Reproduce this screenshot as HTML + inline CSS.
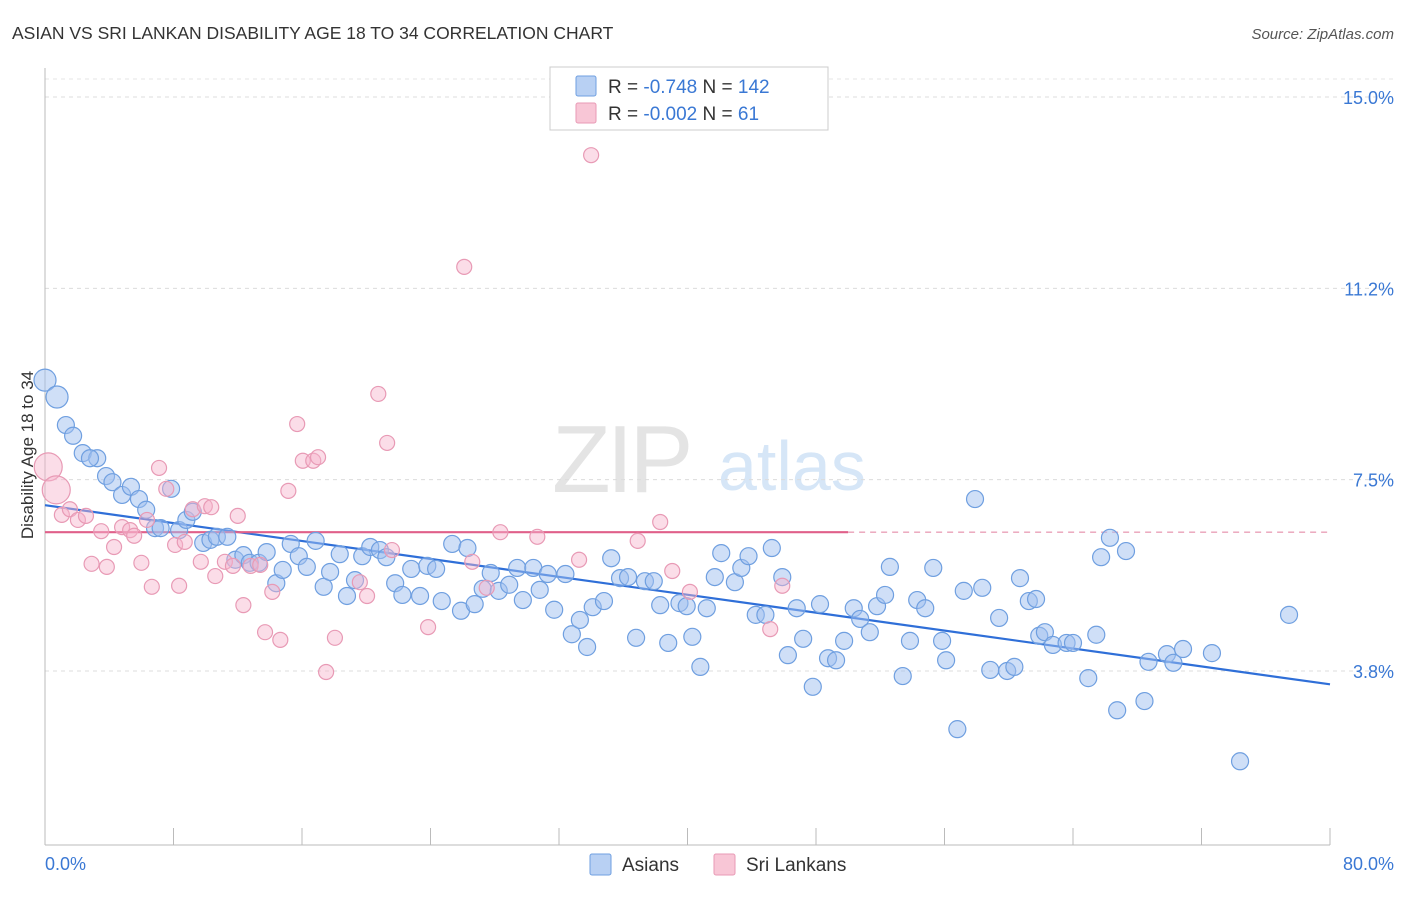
<!DOCTYPE html>
<html><head><meta charset="utf-8"><style>
body{margin:0;background:#fff;font-family:"Liberation Sans",sans-serif}
svg text{font-family:"Liberation Sans",sans-serif}
</style></head><body>
<svg id="chart" width="1406" height="892" xmlns="http://www.w3.org/2000/svg">
<text x="12" y="39" font-size="17.5" fill="#333">ASIAN VS SRI LANKAN DISABILITY AGE 18 TO 34 CORRELATION CHART</text>
<text x="1394" y="39" font-size="15" fill="#555" font-style="italic" text-anchor="end">Source: ZipAtlas.com</text>
<g><text x="552" y="492" font-size="96" fill="#e4e4e4" font-family="Liberation Serif" letter-spacing="-4">ZIP</text><text x="718" y="490" font-size="70" fill="#d6e6f7">atlas</text></g>
<g id="grid"></g><g id="axes"></g><g id="trend"></g><g id="pts"></g>
<text transform="translate(33,455) rotate(-90)" font-size="17" fill="#333" text-anchor="middle">Disability Age 18 to 34</text>
<text x="45" y="870" font-size="18" fill="#3a78d4">0.0%</text>
<text x="1394" y="870" font-size="18" fill="#3a78d4" text-anchor="end">80.0%</text>
<g>
<rect x="550" y="67" width="278" height="63" fill="#fff" stroke="#ccc"/>
<rect x="576" y="76" width="20" height="20" fill="#b8d0f3" stroke="#6f9fe0" rx="2"/>
<rect x="576" y="103" width="20" height="20" fill="#f8c6d6" stroke="#e89ab5" rx="2"/>
<text x="608" y="93" font-size="19" fill="#333">R = <tspan fill="#3a78d4">-0.748</tspan>   N = <tspan fill="#3a78d4">142</tspan></text>
<text x="608" y="120" font-size="19" fill="#333">R = <tspan fill="#3a78d4">-0.002</tspan>   N =   <tspan fill="#3a78d4"> 61</tspan></text>
</g>
<g>
<rect x="590" y="854" width="21" height="21" fill="#b8d0f3" stroke="#6f9fe0" rx="2"/>
<text x="622" y="871" font-size="19" fill="#333">Asians</text>
<rect x="714" y="854" width="21" height="21" fill="#f8c6d6" stroke="#e89ab5" rx="2"/>
<text x="746" y="871" font-size="19" fill="#333">Sri Lankans</text>
</g>
</svg>
<script>
const yTicks=[3.75,7.5,11.25,15];
const yTickLabels=["3.8%","7.5%","11.2%","15.0%"];
const xTicks=[0,8,16,24,32,40,48,56,64,72,80];
const asianX=[0,0.75,1.3,1.75,2.35,3.25,2.8,3.8,4.2,4.8,5.35,5.85,6.3,6.85,7.2,7.85,8.35,8.8,9.2,9.85,10.3,10.7,11.35,11.85,12.35,12.75,13.3,13.8,14.4,14.8,15.3,15.8,16.3,16.85,17.35,17.75,18.35,18.8,19.3,19.75,20.25,20.85,21.25,21.8,22.25,22.8,23.35,23.8,24.35,24.7,25.35,25.9,26.3,26.75,27.25,27.75,28.25,28.9,29.4,29.75,30.4,30.8,31.3,31.7,32.4,32.8,33.3,33.75,34.1,34.8,35.25,35.8,36.3,36.8,37.35,37.9,38.3,38.8,39.5,39.95,40.3,40.8,41.2,41.7,42.1,42.95,43.35,43.8,44.25,44.85,45.25,45.9,46.25,46.8,47.2,47.8,48.25,48.75,49.25,49.75,50.35,50.75,51.35,51.8,52.3,52.6,53.4,53.85,54.3,54.8,55.3,55.85,56.1,56.8,57.2,57.9,58.35,58.85,59.4,59.9,60.35,60.7,61.25,61.7,61.9,62.25,62.75,63.6,64.0,64.95,65.45,65.75,66.3,66.75,67.3,68.45,68.7,69.85,70.25,70.85,72.65,74.4,77.45];
const asianY=[9.45,9.12,8.57,8.36,8.02,7.92,7.92,7.57,7.45,7.2,7.36,7.12,6.91,6.55,6.55,7.32,6.51,6.71,6.87,6.26,6.32,6.38,6.38,5.93,6.02,5.87,5.87,6.08,5.47,5.73,6.24,6.0,5.79,6.3,5.4,5.69,6.04,5.22,5.53,6.0,6.18,6.12,5.98,5.47,5.24,5.75,5.22,5.81,5.75,5.12,6.24,4.93,6.16,5.06,5.36,5.67,5.32,5.44,5.77,5.14,5.77,5.34,5.65,4.95,5.65,4.47,4.75,4.22,5.0,5.12,5.96,5.57,5.59,4.4,5.51,5.51,5.04,4.3,5.08,5.02,4.42,3.83,4.98,5.59,6.06,5.49,5.77,6.0,4.85,4.85,6.16,5.59,4.06,4.98,4.38,3.44,5.06,4.0,3.96,4.34,4.98,4.77,4.51,5.02,5.24,5.79,3.65,4.34,5.14,4.98,5.77,4.34,3.96,2.61,5.32,7.12,5.38,3.77,4.79,3.75,3.83,5.57,5.12,5.16,4.44,4.51,4.26,4.3,4.3,3.61,4.46,5.98,6.36,2.98,6.1,3.16,3.93,4.08,3.91,4.18,4.1,1.98,4.85];
const sriX=[0.2,0.7,1.05,1.55,2.05,2.55,2.9,3.5,3.85,4.3,4.8,5.3,5.55,6.0,6.35,6.65,7.1,7.55,8.1,8.35,8.7,9.2,9.7,9.95,10.35,10.6,11.2,11.7,12.0,12.35,12.8,13.4,13.7,14.15,14.65,15.15,15.7,16.05,16.7,17.0,17.5,18.05,19.6,20.05,20.75,21.3,21.6,23.85,26.1,26.6,27.5,28.35,30.65,33.25,34.0,36.9,38.3,39.05,40.15,45.15,45.9];
const sriY=[7.75,7.3,6.81,6.92,6.71,6.79,5.85,6.49,5.79,6.18,6.57,6.51,6.4,5.87,6.71,5.4,7.73,7.32,6.22,5.42,6.28,6.92,5.89,6.98,6.96,5.61,5.89,5.81,6.79,5.04,5.81,5.83,4.51,5.3,4.36,7.28,8.59,7.87,7.87,7.94,3.73,4.4,5.49,5.22,9.18,8.22,6.12,4.61,11.67,5.89,5.38,6.47,6.38,5.93,13.86,6.3,6.67,5.71,5.3,4.57,5.42];
const asianTrend=[7.0,-0.0439];
const sriTrend=[6.47,0];
const sx=v=>45+v*1285/80;
const sy=v=>97+(15-v)*51.02;
const NS="http://www.w3.org/2000/svg";
function mk(tag,attrs,parent){const e=document.createElementNS(NS,tag);for(const k in attrs)e.setAttribute(k,attrs[k]);parent.appendChild(e);return e;}
const grid=document.getElementById('grid'),axes=document.getElementById('axes'),trend=document.getElementById('trend'),pts=document.getElementById('pts');
yTicks.forEach((t,i)=>{
 const l=mk('line',{x1:45,x2:1394,y1:sy(t),y2:sy(t),stroke:'#dcdcdc','stroke-dasharray':'4,4'},grid);
 
 
 const tx=mk('text',{x:1394,y:sy(t)+7,'font-size':18,fill:'#3a78d4','text-anchor':'end'},grid);
 tx.textContent=yTickLabels[i];
 
 
});
const topG=mk('line',{x1:45,x2:1394,y1:79,y2:79,stroke:'#e4e4e4','stroke-dasharray':'4,4'},grid);


const ya=mk('line',{x1:45,x2:45,y1:68,y2:845,stroke:'#bbb'},axes);


const xa=mk('line',{x1:45,x2:1330,y1:845,y2:845,stroke:'#bbb'},axes);


xTicks.forEach(t=>{
 const l=mk('line',{x1:sx(t),x2:sx(t),y1:828,y2:845,stroke:'#bbb'},axes);
 
 
});
asianX.forEach((x,i)=>{
 const c=mk('circle',{cx:sx(x),cy:sy(asianY[i]),r:i<2?11:8.5,fill:'rgba(160,192,240,0.5)',stroke:'#6f9fe0','stroke-width':1.2},pts);
 
 
});
sriX.forEach((x,i)=>{
 const c=mk('circle',{cx:sx(x),cy:sy(sriY[i]),r:i<2?14:7.5,fill:'rgba(246,180,204,0.45)',stroke:'#e89ab5','stroke-width':1.2},pts);
 
 
});
const at=mk('line',{x1:sx(0),y1:sy(asianTrend[0]),x2:sx(80),y2:sy(asianTrend[0]+asianTrend[1]*80),stroke:'#2f6fd8','stroke-width':2.2},trend);


const st=mk('line',{x1:sx(0),y1:sy(sriTrend[0]),x2:sx(50),y2:sy(sriTrend[0]+sriTrend[1]*50),stroke:'#e0608a','stroke-width':2.2},trend);


const sd=mk('line',{x1:sx(50),y1:sy(sriTrend[0]+sriTrend[1]*50),x2:sx(80),y2:sy(sriTrend[0]+sriTrend[1]*80),stroke:'#eaa0b8','stroke-width':1.3,'stroke-dasharray':'6,5'},trend);


</script>
</body></html>
